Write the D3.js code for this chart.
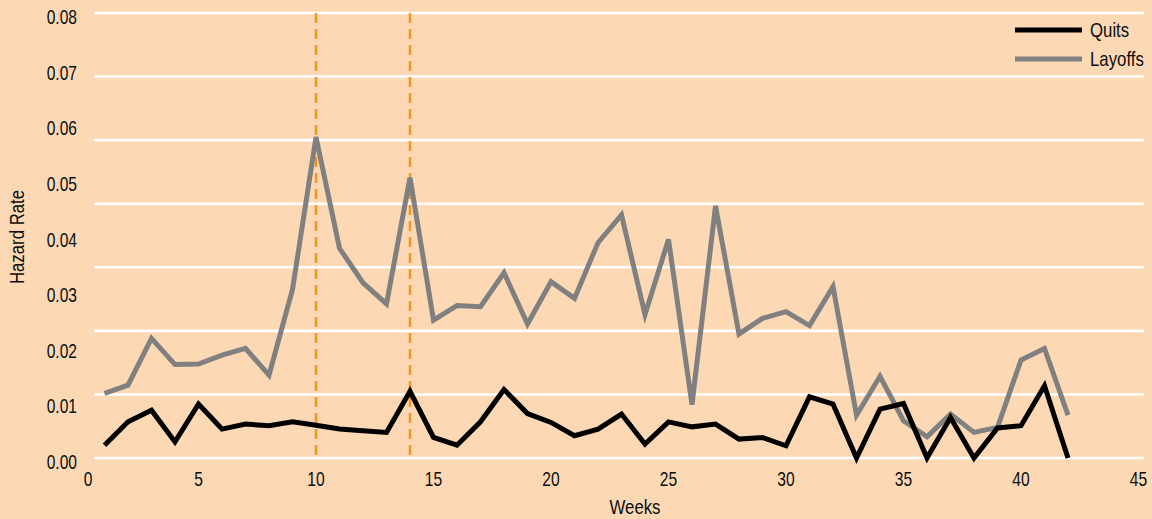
<!DOCTYPE html>
<html>
<head>
<meta charset="utf-8">
<script src="https://cdn.jsdelivr.net/npm/d3@7/dist/d3.min.js"></script>
<style>
  html, body { margin: 0; padding: 0; background: #FCD9B4; }
  svg { display: block; }
  text { font-family: "Liberation Sans", Arial, sans-serif; fill: #0d0d0d; }
</style>
</head>
<body>
<svg id="chart" width="1152" height="519"></svg>
<script>
// Weekly hazard rates of leaving unemployment
const weeks = d3.range(1, 43);
const quits = [
  0.0023, 0.0065, 0.0086, 0.0029, 0.0097, 0.0052, 0.0061, 0.0058, 0.0065, 0.0059,
  0.0052, 0.0049, 0.0046, 0.0120, 0.0037, 0.0023, 0.0065, 0.0123, 0.0080, 0.0064,
  0.0040, 0.0052, 0.0079, 0.0025, 0.0065, 0.0056, 0.0061, 0.0034, 0.0037, 0.0022,
  0.0110, 0.0097, 0.0000, 0.0088, 0.0098, 0.0000, 0.0073, 0.0000, 0.0054, 0.0058,
  0.0130, 0.0000
];
const layoffs = [
  0.0116, 0.0131, 0.0215, 0.0168, 0.0169, 0.0185, 0.0197, 0.0149, 0.0303, 0.0577,
  0.0377, 0.0315, 0.0277, 0.0504, 0.0248, 0.0274, 0.0272, 0.0333, 0.0241, 0.0317,
  0.0287, 0.0387, 0.0437, 0.0258, 0.0393, 0.0096, 0.0453, 0.0223, 0.0251, 0.0263,
  0.0238, 0.0308, 0.0077, 0.0147, 0.0067, 0.0038, 0.0079, 0.0046, 0.0055, 0.0176,
  0.0197, 0.0077
];
const markerWeeks = [10, 14];
const xTicks = [0, 5, 10, 15, 20, 25, 30, 35, 40, 45];
const yTicks = [0, 0.01, 0.02, 0.03, 0.04, 0.05, 0.06, 0.07, 0.08];
const gridCount = 7;
const seriesNames = ["Quits", "Layoffs"];
const seriesColors = ["#000000", "#808080"];

const svg = d3.select("#chart");
const plotLeft = 94, plotRight = 1144;

const x = d3.scaleLinear().domain([0, 45]).range([81, 1138.5]);
const y = d3.scaleLinear().domain([0, 0.08]).range([458, 13]);

// condensed-looking label: a horizontally squeezed text at (px, py)
function label(parent, px, py, str, opts = {}) {
  const rot = opts.rotate ? ` rotate(${opts.rotate})` : "";
  const g = parent.append("g")
    .attr("transform", `translate(${px},${py})${rot} scale(${opts.squeeze || 0.78},1)`);
  g.append("text")
    .attr("dy", "0.35em")
    .attr("text-anchor", opts.anchor || "start")
    .style("font-size", "20px")
    .text(str);
  return g;
}

// horizontal gridlines
const gridValues = d3.range(gridCount + 1).map(i => 0.08 * i / gridCount);
svg.append("g").selectAll("line").data(gridValues).join("line")
  .attr("x1", plotLeft).attr("x2", plotRight)
  .attr("y1", d => y(d)).attr("y2", d => y(d))
  .attr("stroke", "#fff").attr("stroke-width", 2.6);

// y tick labels
const yLab = svg.append("g");
yTicks.forEach(v => label(yLab, 77, y(v) + 4, d3.format(".2f")(v), { anchor: "end" }));

// x tick labels
const xLab = svg.append("g");
xTicks.forEach(v => label(xLab, Math.max(x(v), 88), 479, String(v), { anchor: "middle" }));

// axis titles
label(svg, 635, 507, "Weeks", { anchor: "middle", squeeze: 0.84 });
label(svg, 17, 237, "Hazard Rate", { anchor: "middle", squeeze: 0.84, rotate: -90 });

// dashed reference weeks
svg.append("g").selectAll("line").data(markerWeeks).join("line")
  .attr("x1", d => x(d)).attr("x2", d => x(d))
  .attr("y1", y(0.08)).attr("y2", y(0))
  .attr("stroke", "#F7931E").attr("stroke-width", 2.5)
  .attr("stroke-dasharray", "10,6");

// series lines
const line = d3.line().x((d, i) => x(weeks[i])).y(d => y(d));
[[layoffs, seriesColors[1]], [quits, seriesColors[0]]].forEach(([vals, col]) => {
  svg.append("path").datum(vals)
    .attr("d", line).attr("fill", "none")
    .attr("stroke", col)
    .attr("stroke-width", 5).attr("stroke-linejoin", "miter")
    .attr("stroke-linecap", "butt");
});

// legend
const legend = svg.append("g");
seriesNames.forEach((name, i) => {
  const ly = 30 + i * 29;
  legend.append("line").attr("x1", 1015).attr("x2", 1082).attr("y1", ly).attr("y2", ly)
    .attr("stroke", seriesColors[i]).attr("stroke-width", 5);
  label(legend, 1090, ly, name, { squeeze: 0.84 });
});
</script>
</body>
</html>
